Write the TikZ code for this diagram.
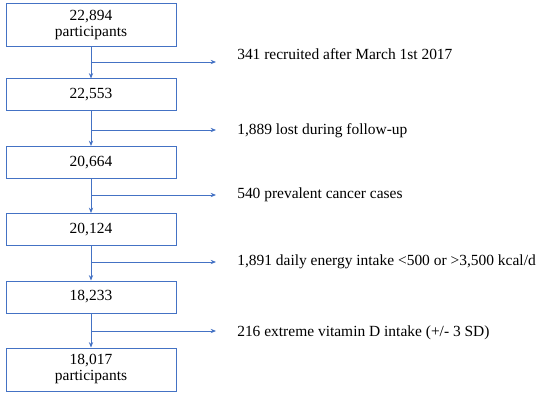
\documentclass[tikz,border=0pt]{standalone}
\usepackage{fontspec}
\setmainfont{Liberation Serif}
\usetikzlibrary{arrows.meta, positioning, calc}
\definecolor{flowblue}{HTML}{4472C4}

\tikzset{
    stage/.style={draw=flowblue, line width=0.75pt, minimum width=127.5pt, minimum height=24pt, align=center, inner sep=0pt},
    stagetwo/.style={stage, minimum height=32.25pt},
    excl/.style={anchor=base west, inner sep=0pt},
    flow/.style={->, draw=flowblue, line width=0.7pt}
}

\begin{document}
\begin{tikzpicture}[x=0.75pt, y=-0.75pt, >={Stealth[length=4pt,width=3.2pt]}, every node/.style={font=\fontsize{11.6}{12}\selectfont}]
    \useasboundingbox (0,0) rectangle (550,399);

    % main column
    \node[stagetwo] (n1) at (91,25.5) {22,894\\participants};
    \node[stage] (n2) at (91,95) {22,553};
    \node[stage] (n3) at (91,162.5) {20,664};
    \node[stage] (n4) at (91,229.5) {20,124};
    \node[stage] (n5) at (91,297) {18,233};
    \node[stagetwo] (n6) at (91,369.5) {18,017\\participants};

    % exclusions
    \node[excl] (e1) at (237,60) {341 recruited after March 1st 2017};
    \node[excl] (e2) at (237,135) {1,889 lost during follow-up};
    \node[excl] (e3) at (237,199) {540 prevalent cancer cases};
    \node[excl] (e4) at (237,266) {1,891 daily energy intake <500 or >3,500 kcal/d};
    \node[excl] (e5) at (237,336) {216 extreme vitamin D intake (+/- 3 SD)};

    \foreach \i/\j/\yb in {1/2/62, 2/3/130, 3/4/195, 4/5/262, 5/6/331} {
        \draw[flow] (n\i) -- (n\j);
        \coordinate (k\i) at (91,\yb);
        \coordinate (t\i) at (216,\yb);
        \draw[flow] (k\i) -- (t\i);
    }
\end{tikzpicture}
\end{document}
